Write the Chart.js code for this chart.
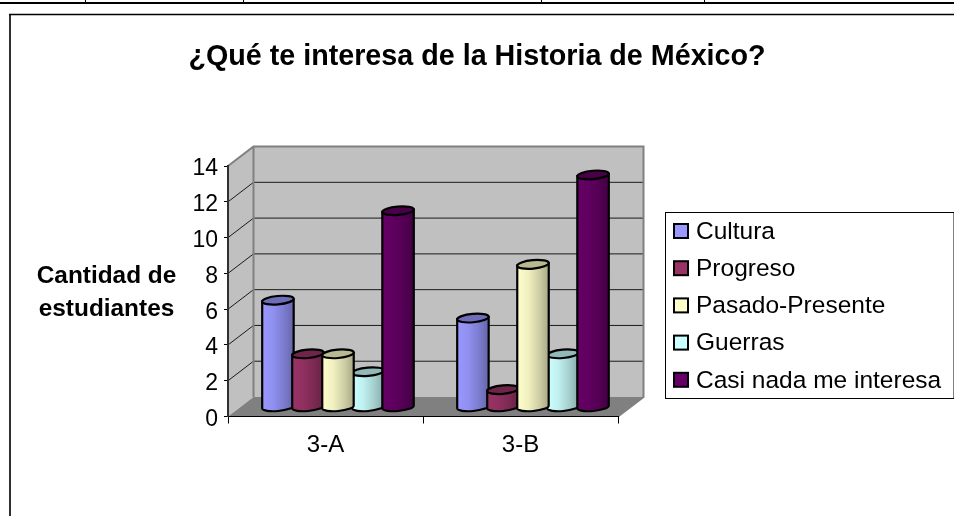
<!DOCTYPE html>
<html><head><meta charset="utf-8">
<style>html,body{margin:0;padding:0;background:#fff}canvas{display:block}</style>
<script src="https://cdn.jsdelivr.net/npm/chart.js@4/dist/chart.umd.min.js"></script>
</head><body>
<div style="width:954px;height:516px"><canvas id="c"></canvas></div>
<script>
const categories = ["3-A","3-B"];
const cultura = [6,5];
const progreso = [3,1];
const pasadoPresente = [3,8];
const guerras = [2,3];
const casiNada = [11,13];
const seriesNames = ["Cultura","Progreso","Pasado-Presente","Guerras","Casi nada me interesa"];
const seriesColors = ["#9999FF","#993366","#FFFFCC","#CCFFFF","#660066"];
const yAxisLines = ["Cantidad de","estudiantes"];
const titleText = "¿Qué te interesa de la Historia de México?";
const FONT = '"Liberation Sans", Arial, sans-serif';
const DX = 25.5, DY = -19.5;      // depth of the 3D box
function shade(hex, f){
  const n = parseInt(hex.slice(1),16);
  const c = [n>>16&255,n>>8&255,n&255].map(v=>Math.round(v*f));
  return `rgb(${c[0]},${c[1]},${c[2]})`;
}
const box3d = {
  id:'box3d',
  afterLayout(chart){
    // centre the title on the whole canvas, not only on the plot column
    const t=chart.titleBlock;
    if(t){ t.left=0; t.right=chart.width; t.width=chart.width; }
  },
  beforeDraw(chart){
    const {ctx,chartArea:a,scales:{y}} = chart;
    ctx.save();
    ctx.fillStyle='#fff'; ctx.fillRect(0,0,chart.width,chart.height);
    // page frame and table rule
    ctx.strokeStyle='#303030'; ctx.lineWidth=2;
    ctx.beginPath(); ctx.moveTo(10,516); ctx.lineTo(10,14.5); ctx.stroke();
    ctx.strokeStyle='#000'; ctx.lineWidth=1.5;
    ctx.beginPath(); ctx.moveTo(9,14.5); ctx.lineTo(954,14.5); ctx.stroke();
    ctx.lineWidth=2; ctx.beginPath(); ctx.moveTo(0,3); ctx.lineTo(954,3); ctx.stroke();
    ctx.lineWidth=1; ctx.beginPath();
    [85,243,541,704].forEach(x=>{ctx.moveTo(x+.5,0);ctx.lineTo(x+.5,3);}); ctx.stroke();
    // walls
    const L=a.left,R=a.right,T=a.top,B=a.bottom;
    ctx.fillStyle='#C0C0C0';
    ctx.fillRect(L+DX,T+DY,R-L,B-T);
    ctx.beginPath(); ctx.moveTo(L,T); ctx.lineTo(L+DX,T+DY); ctx.lineTo(L+DX,B+DY); ctx.lineTo(L,B); ctx.closePath(); ctx.fill();
    ctx.fillStyle='#808080';
    ctx.beginPath(); ctx.moveTo(L,B); ctx.lineTo(L+DX,B+DY); ctx.lineTo(R+DX,B+DY); ctx.lineTo(R,B); ctx.closePath(); ctx.fill();
    // grid lines on the walls, from the y scale
    ctx.strokeStyle='#1a1a1a'; ctx.lineWidth=1;
    y.ticks.forEach(t=>{
      if(t.value===0||t.value===14) return;
      const py=y.getPixelForValue(t.value);
      ctx.beginPath(); ctx.moveTo(L,py); ctx.lineTo(L+DX,py+DY); ctx.lineTo(R+DX,py+DY); ctx.stroke();
    });
    ctx.strokeStyle='#808080'; ctx.lineWidth=2;
    ctx.beginPath();
    ctx.moveTo(L,T); ctx.lineTo(L+DX,T+DY); ctx.lineTo(R+DX,T+DY); ctx.lineTo(R+DX,B+DY); ctx.lineTo(R,B);
    ctx.moveTo(L+DX,T+DY); ctx.lineTo(L+DX,B+DY);
    ctx.stroke();
    ctx.restore();
  },
  afterDatasetsDraw(chart){
    const {ctx} = chart;
    const order=[0,1,3,2,4];
    ctx.save();
    chart.data.labels.forEach((_,i)=>{
      order.forEach(ds=>{
        const el=chart.getDatasetMeta(ds).data[i];
        const col=seriesColors[ds];
        const w=31.5, cx=el.x+12.5, rx=w/2, ry=5, tilt=-0.09;
        const top=el.y-9, base=el.base-9;
        const g=ctx.createLinearGradient(cx-rx,0,cx+rx,0);
        g.addColorStop(0,shade(col,1)); g.addColorStop(.35,shade(col,.94)); g.addColorStop(.72,shade(col,.8)); g.addColorStop(1,shade(col,.66));
        ctx.beginPath();
        ctx.moveTo(cx-rx,top+1);
        ctx.lineTo(cx-rx,base);
        ctx.ellipse(cx,base,rx,ry-1,tilt,Math.PI,0,true);
        ctx.lineTo(cx+rx,top-1);
        ctx.closePath();
        ctx.fillStyle=g; ctx.fill();
        ctx.strokeStyle='#000'; ctx.lineWidth=2.2; ctx.stroke();
        ctx.beginPath();
        ctx.ellipse(cx,top,rx,ry-.8,tilt,0,Math.PI*2);
        ctx.fillStyle=shade(col,.72); ctx.fill(); ctx.stroke();
      });
    });
    ctx.restore();
  },
  afterDraw(chart){
    const {ctx}=chart;
    ctx.save();
    // y axis caption
    ctx.fillStyle='#000'; ctx.font='bold 24.4px '+FONT; ctx.textAlign='center'; ctx.textBaseline='middle';
    yAxisLines.forEach((s,i)=>ctx.fillText(s,106.5,276+i*33.5));
    // legend
    ctx.fillStyle='#fff'; ctx.strokeStyle='#000'; ctx.lineWidth=1;
    ctx.fillRect(665.5,212.5,288.5,186); ctx.strokeRect(665.5,212.5,288.5,186);
    chart.data.datasets.forEach((d,i)=>{
      const y=231+i*37.2;
      ctx.fillStyle=seriesColors[i]; ctx.strokeStyle='#000'; ctx.lineWidth=2;
      ctx.fillRect(674,y-7,14,14); ctx.strokeRect(674,y-7,14,14);
      ctx.fillStyle='#000'; ctx.font='24.5px '+FONT; ctx.textAlign='left'; ctx.textBaseline='middle';
      ctx.fillText(d.label,696,y+1);
    });
    ctx.restore();
  }
};
const seriesValues=[cultura,progreso,pasadoPresente,guerras,casiNada];
new Chart(document.getElementById('c'),{
  type:'bar',
  data:{labels:categories,datasets:seriesNames.map((n,i)=>({label:n,data:seriesValues[i],backgroundColor:'rgba(0,0,0,0)',borderWidth:0,categoryPercentage:.77,barPercentage:1}))},
  plugins:[box3d],
  options:{
    responsive:true,maintainAspectRatio:false,animation:false,
    layout:{padding:{right:336}},
    plugins:{
      legend:{display:false},tooltip:{enabled:false},
      title:{display:true,text:titleText,color:'#000',font:{family:FONT,size:28.7,weight:'bold'},padding:{top:40,bottom:91.6}}
    },
    scales:{
      x:{afterFit(s){s.height=99.5;},grid:{drawOnChartArea:false,color:'#000',tickLength:7,tickColor:'#000'},border:{color:'#000',width:1},
         ticks:{color:'#000',font:{family:FONT,size:24},padding:7,maxRotation:0}},
      y:{min:0,max:14,afterFit(s){s.width=228;},grid:{drawOnChartArea:false,tickLength:4,tickColor:'#000'},border:{color:'#303030',width:2},
         ticks:{stepSize:2,color:'#000',font:{family:FONT,size:23,lineHeight:'6px'},padding:6,callback:v=>['',String(v)]}}
    }
  }
});
</script>
</body></html>
